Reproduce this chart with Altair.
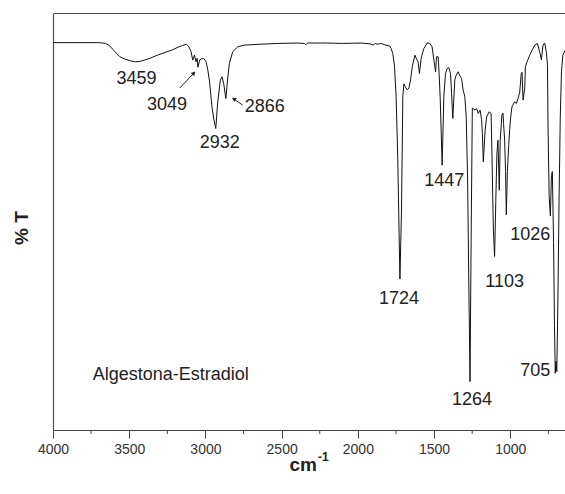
import altair as alt
import pandas as pd

# IR spectrum of Algestona-Estradiol: wavenumber (cm-1) and transmittance (%T, arbitrary)
wavenumber = [
    4000, 3850, 3700, 3655, 3630, 3608, 3585, 3564, 3540, 3515, 3490, 3459, 3430, 3400,
    3360, 3314, 3260, 3214, 3180, 3150, 3125, 3110, 3095, 3083, 3072, 3062, 3055, 3049,
    3038, 3025, 3012, 2996, 2985, 2974, 2957, 2945, 2932, 2920, 2902, 2891, 2880, 2866,
    2855, 2843, 2821, 2788, 2744, 2650, 2525, 2400, 2350, 2342, 2330, 2200, 2100, 1980,
    1920, 1900, 1885, 1870, 1850, 1825, 1792, 1782, 1771, 1760, 1749, 1738, 1724, 1714,
    1705, 1698, 1687, 1676, 1665, 1654, 1643, 1626, 1615, 1605, 1596, 1585, 1567, 1545,
    1530, 1513, 1501, 1490, 1484, 1473, 1467, 1460, 1447, 1436, 1425, 1414, 1403, 1392,
    1385, 1377, 1364, 1355, 1342, 1333, 1320, 1309, 1298, 1289, 1280, 1272, 1264, 1257,
    1249, 1240, 1231, 1221, 1210, 1198, 1188, 1183, 1177, 1165, 1155, 1139, 1126, 1122,
    1111, 1103, 1095, 1088, 1081, 1072, 1066, 1055, 1048, 1044, 1037, 1031, 1026, 1019,
    1010, 1004, 997, 989, 971, 960, 949, 938, 928, 923, 916, 905, 901, 890,
    872, 857, 839, 822, 806, 796, 785, 774, 763, 756, 752, 745, 737, 730,
    724, 716, 710, 705, 700, 695, 688, 680, 672, 664, 655, 641,
]
transmittance = [
    92.9, 92.9, 92.9, 92.7, 92.2, 91.3, 90.4, 89.6, 89.1, 88.8, 88.5, 88.3, 88.4, 88.7,
    89.2, 89.9, 90.6, 91.2, 91.8, 92.2, 92.5, 92.0, 90.8, 88.7, 89.9, 88.3, 89.1, 87.0,
    88.7, 89.0, 89.1, 88.3, 86.5, 83.9, 77.5, 74.5, 72.3, 78.4, 83.9, 84.7, 83.1, 79.5,
    83.9, 87.9, 90.7, 91.9, 92.3, 92.5, 92.7, 92.8, 92.7, 92.4, 92.8, 92.8, 92.7, 92.8,
    92.6, 92.3, 92.7, 92.5, 92.7, 92.4, 92.1, 91.5, 90.3, 87.5, 80.0, 65.0, 36.2, 52.0,
    79.9, 83.0, 82.2, 81.6, 82.0, 84.0, 87.1, 89.9, 89.0, 88.3, 85.5, 89.1, 91.5, 92.8,
    92.8, 91.9, 88.7, 85.9, 89.5, 89.5, 85.5, 79.9, 63.5, 79.9, 85.5, 86.7, 86.9, 85.5,
    80.7, 74.7, 83.9, 85.1, 85.9, 85.1, 84.3, 81.5, 79.9, 75.1, 60.0, 35.0, 11.6, 45.0,
    77.2, 77.0, 76.7, 77.1, 75.9, 76.7, 74.4, 71.1, 64.3, 71.9, 75.1, 76.3, 75.9, 69.5,
    48.0, 41.6, 55.0, 66.0, 69.5, 57.5, 69.5, 75.5, 76.0, 73.5, 69.5, 62.0, 51.6, 62.0,
    68.5, 72.0, 75.1, 77.5, 78.7, 78.3, 79.5, 81.0, 85.5, 85.8, 79.1, 82.0, 87.1, 88.3,
    89.9, 91.1, 92.3, 92.7, 90.5, 88.8, 92.3, 92.8, 90.5, 87.5, 72.0, 56.0, 51.3, 61.0,
    62.0, 45.0, 25.0, 13.6, 16.5, 14.0, 30.0, 55.0, 75.0, 86.0, 89.9, 91.0,
]
assert len(wavenumber) == len(transmittance)

# labelled absorption bands and where each label sits around its band (px)
peak_wavenumber = [3459, 3049, 2932, 2866, 1724, 1447, 1264, 1103, 1026, 705]
peak_label_dx = [1, -31, 4, 39, -1, 2, 2, 10, 24, -20]
peak_label_dy = [17, 38, 14, 9, 20, 16, 18, 25, 20, -2]

# pointer arrows for the two crowded C-H bands
arrow_start_wn = [3168, 2755]
arrow_start_t = [82.0, 77.9]
arrow_end_wn = [3076, 2814]
arrow_end_t = [85.6, 79.4]
arrow_angle = [43, 304]

major_ticks = [4000, 3500, 3000, 2500, 2000, 1500, 1000]
minor_ticks = [3750, 3250, 2750, 2250, 1750, 1250, 750]

sample_name = "Algestona-Estradiol"
sample_wn, sample_t = 3739, 13.3

FONT = "Liberation Sans"
INK = "#222222"
AXIS = "#444444"
W, H = 512, 417

spectrum_df = pd.DataFrame({"wn": wavenumber, "t": transmittance})
t_at = dict(zip(wavenumber, transmittance))

x_scale = alt.Scale(domain=[4000, 641], nice=False, zero=False)
y_scale = alt.Scale(domain=[0, 100], nice=False, zero=False)

spectrum = alt.Chart(spectrum_df).mark_line(
    color="#111111", strokeWidth=1, clip=True, interpolate="linear"
).encode(
    x=alt.X("wn:Q", scale=x_scale, axis=alt.Axis(
        values=major_ticks, format="d", title=None, grid=False,
        tickSize=8, tickColor=AXIS, tickWidth=1, domainColor=AXIS, domainWidth=1,
        labelFont=FONT, labelFontSize=14, labelColor="#333333", labelPadding=4,
        labelFlush=False, labelOverlap=False)),
    y=alt.Y("t:Q", scale=y_scale, axis=alt.Axis(
        title=None, labels=False, ticks=False, grid=False,
        domainColor="#555555", domainWidth=1.2)),
)

# minor ticks under the axis; this layer also carries the top frame line
minor = alt.Chart(pd.DataFrame({"wn": minor_ticks})).mark_rule(
    color=AXIS, strokeWidth=1
).encode(
    x=alt.X("wn:Q", scale=x_scale, axis=alt.Axis(
        orient="top", labels=False, ticks=False, title=None, grid=False,
        domainColor=AXIS, domainWidth=1)),
    y=alt.value(H),
    y2=alt.value(H + 4),
)

layers = [spectrum, minor]

for wn, dx, dy in zip(peak_wavenumber, peak_label_dx, peak_label_dy):
    row = pd.DataFrame({"wn": [wn], "t": [t_at[wn]], "label": [str(wn)]})
    layers.append(
        alt.Chart(row).mark_text(
            dx=dx, dy=dy, font=FONT, fontSize=18, color=INK,
            align="center", baseline="middle"
        ).encode(
            x=alt.X("wn:Q", scale=x_scale, axis=None),
            y=alt.Y("t:Q", scale=y_scale, axis=None),
            text="label:N",
        )
    )

arrows_df = pd.DataFrame({
    "wn": arrow_start_wn, "t": arrow_start_t,
    "wn2": arrow_end_wn, "t2": arrow_end_t, "angle": arrow_angle,
})
layers.append(
    alt.Chart(arrows_df).mark_rule(color=INK, strokeWidth=1).encode(
        x=alt.X("wn:Q", scale=x_scale, axis=None),
        y=alt.Y("t:Q", scale=y_scale, axis=None),
        x2="wn2:Q", y2="t2:Q",
    )
)
layers.append(
    alt.Chart(arrows_df).mark_point(
        shape="triangle-up", filled=True, size=22, color=INK, opacity=1
    ).encode(
        x=alt.X("wn2:Q", scale=x_scale, axis=None),
        y=alt.Y("t2:Q", scale=y_scale, axis=None),
        angle=alt.Angle("angle:Q", scale=None),
    )
)

layers.append(
    alt.Chart(pd.DataFrame({"wn": [sample_wn], "t": [sample_t], "name": [sample_name]}))
    .mark_text(font=FONT, fontSize=18, color=INK, align="left", baseline="middle")
    .encode(
        x=alt.X("wn:Q", scale=x_scale, axis=None),
        y=alt.Y("t:Q", scale=y_scale, axis=None),
        text="name:N",
    )
)

# axis titles: "% T" and "cm" with a superscript "-1"
layers.append(
    alt.Chart(pd.DataFrame({"txt": ["% T"]})).mark_text(
        font=FONT, fontSize=19, fontWeight="bold", color=INK, angle=270,
        align="center", baseline="middle"
    ).encode(x=alt.value(-31), y=alt.value(215), text="txt:N")
)
layers.append(
    alt.Chart(pd.DataFrame({"txt": ["cm"]})).mark_text(
        font=FONT, fontSize=19, fontWeight="bold", color=INK,
        align="right", baseline="alphabetic"
    ).encode(x=alt.value(264), y=alt.value(458), text="txt:N")
)
layers.append(
    alt.Chart(pd.DataFrame({"txt": ["-1"]})).mark_text(
        font=FONT, fontSize=12, fontWeight="bold", color=INK,
        align="left", baseline="alphabetic"
    ).encode(x=alt.value(265), y=alt.value(448), text="txt:N")
)

chart = (
    alt.layer(*layers)
    .resolve_axis(x="independent", y="independent")
    .properties(
        width=W, height=H,
        padding={"left": 53, "top": 13, "right": 0, "bottom": 64},
        autosize=alt.AutoSizeParams(type="none"),
    )
    .configure_view(stroke=None)
)

chart.save("out.html", embed_options={"renderer": "svg", "actions": False})
